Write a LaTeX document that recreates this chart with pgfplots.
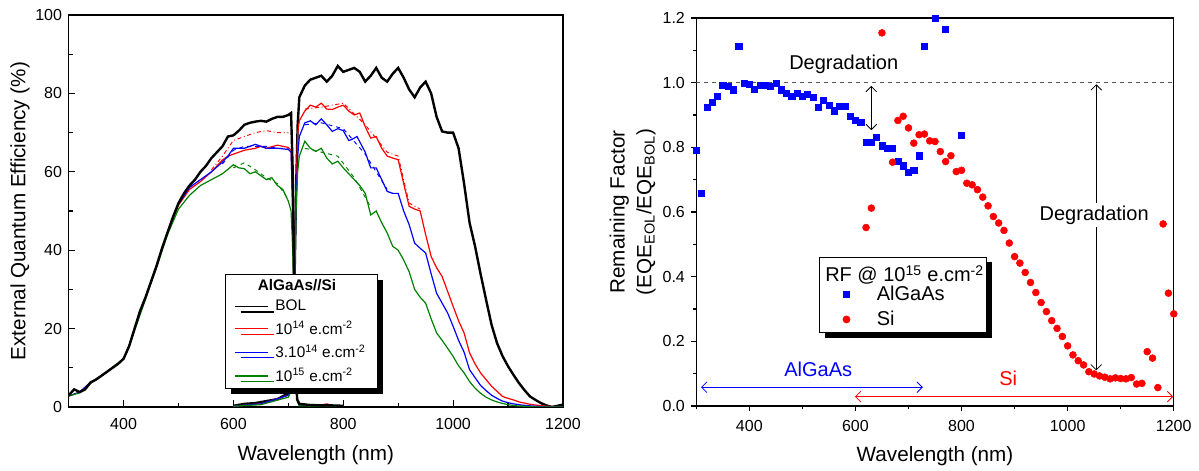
\documentclass[border=0pt]{standalone}
\usepackage{fontspec}
\setmainfont{Liberation Sans}
\usepackage{pgfplots}
\pgfplotsset{compat=1.18}
\usetikzlibrary{shadows,arrows.meta}
\definecolor{myblue}{RGB}{0,0,255}
\definecolor{myred}{RGB}{255,0,0}
\definecolor{mygreen}{RGB}{0,128,0}
\newcommand{\tickfont}{\fontsize{12}{14}\selectfont}
\newcommand{\labfont}{\fontsize{15.5}{20}\selectfont}

\pgfplotstableread{
x y
300 3.0
310 4.5
320 3.8
330 4.5
340 6.3
350 7.0
360 8.0
370 9.0
380 10.0
390 11.0
400 12.3
410 15.5
420 20.0
430 24.5
440 28.0
450 32.0
460 36.0
470 40.5
480 44.5
490 48.5
500 52.0
510 54.5
520 56.5
530 58.0
540 60.0
550 61.5
560 63.5
570 65.0
580 66.5
590 69.0
600 69.3
610 70.5
620 72.0
630 72.5
640 72.8
650 73.0
660 72.8
670 73.5
680 74.0
690 74.0
700 74.5
705 75.0
708 60
711 25
714 8
716 2
720 0.8
740 0.5
760 0.4
780 0.4
800 0.3
}\topBOL

\pgfplotstableread{
x y
600 0.3
620 0.8
640 1.0
660 1.5
680 2.0
700 3.5
705 5
708 10
711 30
714 55
717 72
720 79
730 82
740 83.5
750 84
760 84.5
770 83
780 84.5
790 87
800 85.5
810 86
820 86.5
830 85.5
840 83
850 84.5
860 86.5
870 84
880 83
890 85
900 86.5
910 84
920 81
930 79
940 81.5
950 83
960 80
970 74
980 70.3
990 70
1000 70
1010 66
1020 57
1030 47
1040 41
1050 34
1060 27.4
1070 21
1080 16.3
1090 13
1100 10.4
1110 8.2
1120 6.1
1130 4.3
1140 2.7
1150 1.8
1160 1.0
1170 0.4
1180 0.0
1190 0.3
1200 0.6
}\siBOL

\pgfplotstableread{
x y
300 2.8
320 3.8
340 6.3
360 8.0
380 10.0
400 12.3
410 15.5
420 20
440 28
460 36
480 44.5
500 51.5
520 55.5
540 57.5
560 60
580 63
590 64
600 64.5
620 65.5
640 66
650 66.5
660 66
680 66.8
700 66.2
705 65.5
708 50
711 25
714 6
716 2
720 0.6
760 0.5
770 0.8
780 0.4
800 0.3
}\topRed

\pgfplotstableread{
x y
300 2.8
320 3.8
340 6.3
360 8.0
380 10.0
400 12.3
410 15.5
420 20
440 28
460 36
480 44.5
500 51.8
520 56
540 58
560 60
580 62.5
590 64
600 66
620 66
640 67
660 66
680 66
700 65.7
705 65
708 50
711 25
714 6
716 2
720 0.5
800 0.3
}\topBlue

\pgfplotstableread{
x y
300 2.8
320 3.6
340 6.0
360 8.0
380 10.2
400 12.3
410 15.3
420 19.5
440 27.5
460 35.5
480 44
500 50.5
520 54
540 56.5
560 58
580 59.5
600 61.8
610 61
620 60.8
630 59.5
640 60
650 59
660 58
670 58.5
680 56.5
690 55.5
700 52.5
705 50
708 40
711 20
714 5
716 1.5
720 0.3
800 0.2
}\topGreen

\pgfplotstableread{
x y
600 0.2
650 0.8
700 3
705 4.5
708 10
711 30
714 55
717 70
720 73
730 75.5
740 77
750 76.5
760 77.5
770 76
780 75.9
790 76.5
800 77
810 75.5
820 74.5
830 75
840 71.5
850 68.6
860 69
870 66
880 64
890 63.5
900 63.1
910 57
920 51.2
930 50.5
940 50
950 44
960 38.4
970 35.5
980 33.3
990 29.5
1000 25.7
1010 22
1020 18.9
1030 13.8
1040 11
1050 8.7
1060 7
1070 5.3
1080 4
1090 2.7
1100 2.2
1110 1.8
1120 1.3
1130 1.0
1140 0.7
1150 0.5
1170 0.2
1200 0
}\siRed

\pgfplotstableread{
x y
600 0.2
650 0.8
700 3
705 4.5
708 10
711 30
714 52
717 64
720 69
730 72.5
740 73
750 72
760 73.5
770 72
780 70.3
790 71
800 70.5
810 68
815 68.2
825 69
840 65
850 61
860 61
870 58
880 55
890 54.5
900 54.5
910 50
920 46.5
930 41.8
940 40.5
950 39.3
960 34
970 29
980 26.5
990 24
1000 20.6
1010 17
1020 14
1030 9.5
1040 7.5
1050 5.5
1060 4.2
1070 3
1080 2.2
1090 1.5
1100 1.1
1110 0.8
1125 0.5
1140 0.3
1170 0
1200 0
}\siBlue

\pgfplotstableread{
x y
600 0.2
650 0.6
700 2.5
705 4
708 9
711 28
714 50
717 60
720 64
730 67.8
740 66
750 65.2
760 66
770 63.5
780 62
790 62.7
800 61
810 59.5
820 58
830 56.5
840 54.5
850 49
860 50
870 47
880 44.4
890 41
900 40
910 37.5
920 34.5
930 30
940 28
950 26.5
960 22.5
970 18.9
980 17
990 15
1000 12.9
1010 10.5
1020 8.7
1030 6.5
1040 4.8
1050 3.5
1060 2.5
1070 1.8
1080 1.3
1090 0.9
1100 0.6
1115 0.3
1130 0.2
1150 0
1200 0
}\siGreen

\pgfplotstableread{
x y
300 0.79
310 0.658
320 0.924
330 0.94
340 0.958
350 0.991
360 0.989
370 0.978
380 1.112
390 0.999
400 0.994
410 0.98
420 0.991
430 0.993
440 0.989
450 0.997
460 0.978
470 0.966
480 0.958
490 0.968
500 0.958
510 0.965
520 0.956
530 0.925
540 0.945
550 0.929
560 0.913
570 0.927
580 0.927
590 0.896
600 0.885
610 0.877
620 0.817
630 0.817
640 0.831
650 0.805
660 0.796
670 0.796
680 0.758
690 0.743
700 0.724
710 0.729
720 0.774
730 1.112
750 1.2
770 1.164
800 0.836
}\rfAl

\pgfplotstableread{
x y
620 0.552
630 0.612
650 1.154
670 0.754
680 0.883
690 0.896
700 0.86
710 0.813
720 0.839
730 0.841
740 0.82
750 0.818
760 0.787
770 0.756
780 0.774
790 0.725
800 0.729
810 0.689
820 0.684
830 0.669
840 0.646
850 0.619
860 0.586
870 0.566
880 0.543
890 0.504
900 0.462
910 0.442
920 0.413
930 0.382
940 0.351
950 0.32
960 0.292
970 0.264
980 0.240
990 0.215
1000 0.186
1010 0.158
1020 0.14
1030 0.127
1040 0.106
1050 0.099
1060 0.093
1070 0.089
1080 0.084
1090 0.087
1100 0.085
1110 0.084
1120 0.088
1130 0.068
1140 0.07
1150 0.168
1160 0.148
1170 0.057
1180 0.563
1190 0.349
1200 0.285
}\rfSi

\begin{document}
\begin{tikzpicture}
\useasboundingbox (0,0) rectangle (899.25pt,353.25pt);
% ---------------- left axis ----------------
\begin{axis}[
  at={(51.5pt,48pt)}, anchor=south west, scale only axis,
  width=370.7pt, height=294pt,
  xmin=300, xmax=1200, ymin=0, ymax=100,
  xtick={400,600,...,1200}, minor xtick={300,500,...,1100},
  ytick={0,20,...,100}, minor ytick={10,30,...,90},
  tick align=inside, tick pos=left,
  major tick length=5pt, minor tick length=3pt,
  every tick/.style={black, line width=0.8pt},
  axis line style={line width=0.9pt},
  /pgf/number format/assume math mode=true,
  /pgf/number format/1000 sep={},
  ticklabel style={font=\tickfont},
  xticklabel style={yshift=-5pt},
  yticklabel style={xshift=-1.5pt},
  xlabel={Wavelength (nm)},
  xlabel style={font=\labfont, at={(axis description cs:0.5,0)}, anchor=north, yshift=-25.5pt},
  ylabel={External Quantum Efficiency (\%)},
  ylabel style={font=\labfont, at={(axis description cs:-0.0985,0.5)}, anchor=center},
  legend style={at={(0.316,0.339)}, anchor=north west, draw=black, line width=0.6pt,
    fill=white, font=\fontsize{11.5}{13}\selectfont,
    drop shadow={shadow xshift=4pt, shadow yshift=-4pt, fill=black, opacity=1},
    inner xsep=7pt, inner ysep=1.5pt, nodes={inner sep=2pt}, row sep=2.2pt, column sep=3pt},
  legend cell align=left,
  legend image code/.code={\draw[#1, line width=0.9pt] (0cm,0cm) -- (0.87cm,0cm);},
]
\addlegendimage{empty legend}
\addlegendentry{\phantom{BOL}}
\addplot[black, line width=1.8pt] table {\siBOL};
\addlegendentry{BOL}
\addplot[myred, line width=0.9pt] table {\siRed};
\addlegendentry{10\textsuperscript{14} e.cm\textsuperscript{-2}}
\addplot[myblue, line width=0.9pt] table {\siBlue};
\addlegendentry{3.10\textsuperscript{14} e.cm\textsuperscript{-2}}
\addplot[mygreen, line width=0.9pt] table {\siGreen};
\addlegendentry{10\textsuperscript{15} e.cm\textsuperscript{-2}}
% top cell curves
\addplot[forget plot, myred, line width=0.9pt] table {\topRed};
\addplot[forget plot, myblue, line width=0.9pt] table {\topBlue};
\addplot[forget plot, mygreen, line width=0.9pt] table {\topGreen};
\addplot[forget plot, black, line width=1.8pt] table {\topBOL};
% second measurements (dashed / dash-dot)
\addplot[forget plot, myred, line width=0.7pt, dash dot] coordinates {(560,60.5) (580,64) (600,68) (620,69) (640,70) (660,70.5) (680,70) (700,70)};
\addplot[forget plot, myblue, line width=0.7pt, dashed] coordinates {(580,62) (600,65.5) (620,66.5) (640,66.5) (660,66.5) (680,66) (700,66)};
\addplot[forget plot, mygreen, line width=0.7pt, dashed] coordinates {(600,61) (620,62.3) (640,60.5) (660,58.5) (680,57) (700,53)};
\addplot[forget plot, myred, line width=0.7pt, dash dot] coordinates {(730,76) (760,76.5) (800,77.5) (840,72) (880,65) (900,64) (920,52) (940,50.5)};
\addplot[forget plot, myblue, line width=0.7pt, dashed] coordinates {(730,72) (760,72.5) (800,71) (840,64.5) (880,55.5)};
\addplot[forget plot, mygreen, line width=0.7pt, dashed] coordinates {(730,66) (760,65) (790,64) (820,58.5) (850,51)};
\end{axis}
\node[font=\fontsize{11.5}{13}\selectfont\bfseries] at (222.75pt,139.7pt) {AlGaAs//Si};
% ---------------- right axis ----------------
\begin{axis}[
  at={(522.2pt,48.75pt)}, anchor=south west, scale only axis,
  width=358.1pt, height=291pt,
  xmin=300, xmax=1200, ymin=0, ymax=1.2,
  xtick={400,600,...,1200}, minor xtick={300,500,...,1100},
  ytick={0,0.2,0.4,0.6,0.8,1.0,1.2}, minor ytick={0.1,0.3,0.5,0.7,0.9,1.1},
  tick align=outside, tick pos=left,
  major tick length=4pt, minor tick length=2.5pt,
  every tick/.style={black, line width=0.8pt},
  axis line style={line width=0.9pt},
  /pgf/number format/assume math mode=true,
  /pgf/number format/1000 sep={},
  ticklabel style={font=\tickfont},
  xticklabel style={yshift=-3pt},
  yticklabel style={xshift=-1pt, /pgf/number format/.cd, fixed, fixed zerofill, precision=1},
  xlabel={Wavelength (nm)},
  xlabel style={font=\labfont, at={(axis description cs:0.5,0)}, anchor=north, yshift=-26.5pt},
  ylabel={Remaining Factor\\(EQE\textsubscript{EOL}/EQE\textsubscript{BOL})},
  ylabel style={font=\labfont, align=center, at={(axis description cs:-0.1334,0.5)}, anchor=center},
  legend style={at={(0.258,0.385)}, anchor=north west, draw=black, line width=0.6pt,
    fill=white, font=\fontsize{15}{17}\selectfont,
    drop shadow={shadow xshift=4pt, shadow yshift=-4pt, fill=black, opacity=1},
    inner sep=1.5pt, nodes={inner sep=2pt}, row sep=2.2pt},
  legend cell align=left,
  legend image code/.code={\pgfpathmoveto{\pgfpointorigin}\pgfpathlineto{\pgfpoint{1.38cm}{0pt}}\pgfusepath{}\path[#1, draw=none] plot coordinates {(0.65cm,0cm)};},
]
\addplot[forget plot, gray!70!black, line width=0.8pt, dash pattern=on 3pt off 3pt] coordinates {(300,1) (1200,1)};
\addlegendimage{empty legend}
\addlegendentry{\phantom{AlGaAs}\hspace*{28pt}}
\addplot[only marks, mark=square*, mark size=2.3pt, myblue, mark options={draw=none, fill=myblue}] table {\rfAl};
\addlegendentry{AlGaAs}
\addplot[only marks, mark=*, mark size=2.6pt, myred, mark options={draw=none, fill=myred}] table {\rfSi};
\addlegendentry{Si}
% annotations
\node[font=\fontsize{15}{17}\selectfont] at (axis cs:578,1.058) {Degradation};
\draw[line width=0.6pt, {Straight Barb[length=4pt]}-{Straight Barb[length=4pt]}] (axis cs:630,0.99) -- (axis cs:630,0.853);
\draw[line width=0.6pt, {Straight Barb[length=4pt]}-{Straight Barb[length=4pt]}] (axis cs:1054,0.995) -- (axis cs:1054,0.11);
\node[fill=white, inner sep=2pt, font=\fontsize{15}{17}\selectfont] at (axis cs:1050,0.591) {Degradation};
\draw[myblue, line width=0.6pt, {Straight Barb[length=4pt]}-{Straight Barb[length=4pt]}] (axis cs:309,0.058) -- (axis cs:727,0.058);
\node[myblue, font=\fontsize{15}{17}\selectfont] at (axis cs:530,0.113) {AlGaAs};
\draw[myred, line width=0.6pt, {Straight Barb[length=4pt]}-{Straight Barb[length=4pt]}] (axis cs:599,0.029) -- (axis cs:1199,0.029);
\node[myred, font=\fontsize{15}{17}\selectfont] at (axis cs:888,0.086) {Si};
\end{axis}
\node[font=\fontsize{15}{17}\selectfont, anchor=west, inner sep=0pt] at (618.75pt,147pt) {RF @ 10\textsuperscript{15} e.cm\textsuperscript{-2}};
\end{tikzpicture}
\end{document}
